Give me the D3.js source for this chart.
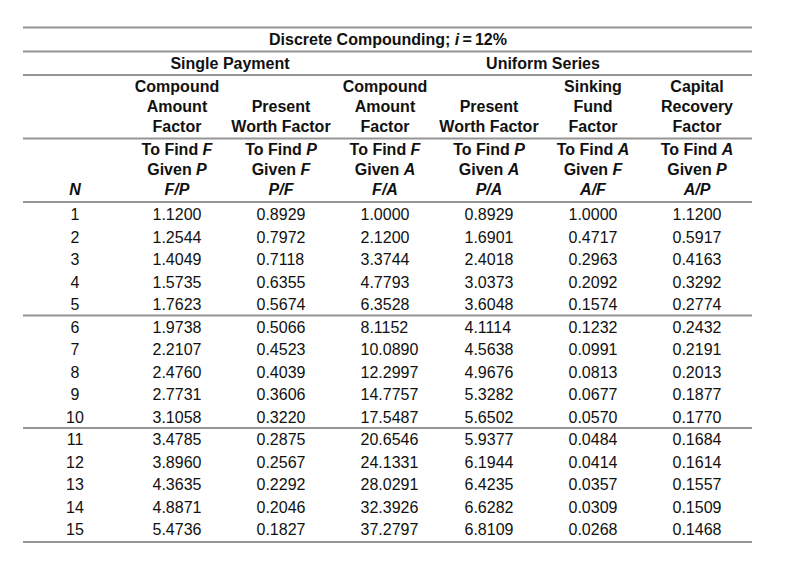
<!DOCTYPE html>
<html>
<head>
<meta charset="utf-8">
<script src="https://cdn.jsdelivr.net/npm/d3@7"></script>
<style>
  html, body { margin: 0; padding: 0; background: #fff; }
  svg { display: block; font-family: "Liberation Sans", Arial, sans-serif; }
</style>
</head>
<body>
<svg id="chart" width="792" height="570"></svg>
<script>
// ---- data ----
const title = ["Discrete Compounding; ", "i", "\u2009=\u200912%"];
const groups = ["Single Payment", "Uniform Series"];
const factorNames = [
  ["Compound", "Amount", "Factor"],
  ["", "Present", "Worth Factor"],
  ["Compound", "Amount", "Factor"],
  ["", "Present", "Worth Factor"],
  ["Sinking", "Fund", "Factor"],
  ["Capital", "Recovery", "Factor"]
];
const findWhat = ["F", "P", "F", "P", "A", "A"];
const givenWhat = ["P", "F", "A", "A", "F", "P"];
const symbols = ["F/P", "P/F", "F/A", "P/A", "A/F", "A/P"];
const N = [1, 2, 3, 4, 5, 6, 7, 8, 9, 10, 11, 12, 13, 14, 15];
const FP = ["1.1200","1.2544","1.4049","1.5735","1.7623","1.9738","2.2107","2.4760","2.7731","3.1058","3.4785","3.8960","4.3635","4.8871","5.4736"];
const PF = ["0.8929","0.7972","0.7118","0.6355","0.5674","0.5066","0.4523","0.4039","0.3606","0.3220","0.2875","0.2567","0.2292","0.2046","0.1827"];
const FA = ["1.0000","2.1200","3.3744","4.7793","6.3528","8.1152","10.0890","12.2997","14.7757","17.5487","20.6546","24.1331","28.0291","32.3926","37.2797"];
const PA = ["0.8929","1.6901","2.4018","3.0373","3.6048","4.1114","4.5638","4.9676","5.3282","5.6502","5.9377","6.1944","6.4235","6.6282","6.8109"];
const AF = ["1.0000","0.4717","0.2963","0.2092","0.1574","0.1232","0.0991","0.0813","0.0677","0.0570","0.0484","0.0414","0.0357","0.0309","0.0268"];
const AP = ["1.1200","0.5917","0.4163","0.3292","0.2774","0.2432","0.2191","0.2013","0.1877","0.1770","0.1684","0.1614","0.1557","0.1509","0.1468"];
const series = [FP, PF, FA, PA, AF, AP];

// ---- layout ----
const svg = d3.select("#chart");
const ink = "#111";
const rule = "#959595";
const left = 23, right = 752;

const colX = d3.scaleLinear().domain([0, 5]).range([177, 697]);   // factor column centres
const nX = 75;
const rowY = d3.scaleLinear().domain([1, 15]).range([220, 535]);  // baselines

// horizontal rules
const rules = [27.5, 51.5, 75, 138.5, 202, rowY(5) + 5.5, rowY(10) + 5.5, 542];
svg.selectAll("line.rule").data(rules).join("line")
  .attr("class", "rule")
  .attr("x1", left).attr("x2", right)
  .attr("y1", d => d).attr("y2", d => d)
  .attr("stroke", rule).attr("stroke-width", 2);

// title
const t = svg.append("text")
  .attr("x", 388).attr("y", 45)
  .attr("text-anchor", "middle")
  .attr("font-size", 16).attr("font-weight", "bold").attr("fill", ink);
t.append("tspan").text(title[0]);
t.append("tspan").attr("font-style", "italic").text(title[1]);
t.append("tspan").text(title[2]);

// group headers
svg.selectAll("text.group").data(groups).join("text")
  .attr("class", "group")
  .attr("x", (d, i) => i === 0 ? (colX(0) + colX(1)) / 2 + 1 : (colX(2) + colX(5)) / 2 + 2)
  .attr("y", 68.5)
  .attr("text-anchor", "middle")
  .attr("font-size", 16).attr("font-weight", "bold").attr("fill", ink)
  .text(d => d);

// factor names
const nameBase = [92, 112, 132];
factorNames.forEach((lines, c) => {
  lines.forEach((ln, k) => {
    if (!ln) return;
    svg.append("text")
      .attr("x", colX(c)).attr("y", nameBase[k])
      .attr("text-anchor", "middle")
      .attr("font-size", 16).attr("font-weight", "bold").attr("fill", ink)
      .text(ln);
  });
});

// to find / given / symbol
function italicLine(x, y, plain, ital) {
  const tx = svg.append("text")
    .attr("x", x).attr("y", y)
    .attr("text-anchor", "middle")
    .attr("font-size", 16).attr("font-weight", "bold").attr("fill", ink);
  tx.append("tspan").text(plain);
  tx.append("tspan").attr("font-style", "italic").text(ital);
}
for (let c = 0; c < 6; c++) {
  italicLine(colX(c), 154.5, "To Find ", findWhat[c]);
  italicLine(colX(c), 174.5, "Given ", givenWhat[c]);
  svg.append("text")
    .attr("x", colX(c)).attr("y", 194.5)
    .attr("text-anchor", "middle")
    .attr("font-size", 16).attr("font-weight", "bold").attr("font-style", "italic").attr("fill", ink)
    .text(symbols[c]);
}
svg.append("text")
  .attr("x", nX).attr("y", 194.5)
  .attr("text-anchor", "middle")
  .attr("font-size", 16).attr("font-weight", "bold").attr("font-style", "italic").attr("fill", ink)
  .text("N");

// body
svg.selectAll("text.n").data(N).join("text")
  .attr("class", "n")
  .attr("x", nX).attr("y", d => rowY(d))
  .attr("text-anchor", "middle")
  .attr("font-size", 16).attr("fill", ink)
  .text(d => d);

const halfW = 24.5;
series.forEach((vals, c) => {
  svg.selectAll("text.c" + c).data(vals).join("text")
    .attr("class", "c" + c)
    .attr("x", colX(c) - halfW)
    .attr("y", (d, i) => rowY(N[i]))
    .attr("text-anchor", "start")
    .attr("font-size", 16).attr("fill", ink)
    .text(d => d);
});
</script>
</body>
</html>
